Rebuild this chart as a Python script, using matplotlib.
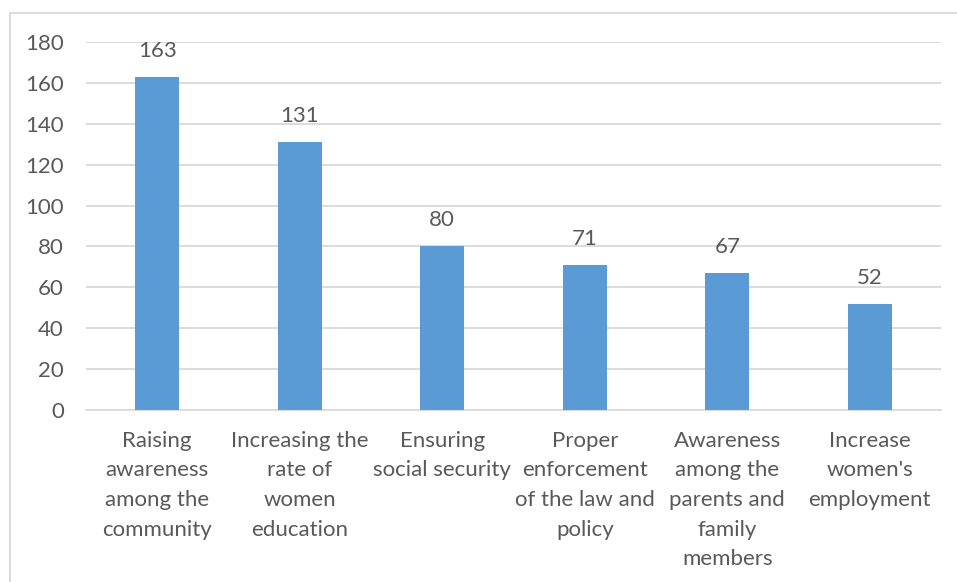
import matplotlib
matplotlib.use("Agg")
import matplotlib.pyplot as plt
from matplotlib.lines import Line2D

categories = [
    "Raising\nawareness\namong the\ncommunity",
    "Increasing the\nrate of\nwomen\neducation",
    "Ensuring\nsocial security",
    "Proper\nenforcement\nof the law and\npolicy",
    "Awareness\namong the\nparents and\nfamily\nmembers",
    "Increase\nwomen's\nemployment",
]
values = [163, 131, 80, 71, 67, 52]
yticks = [0, 20, 40, 60, 80, 100, 120, 140, 160, 180]

plt.rcParams['font.family'] = ['Lato', 'DejaVu Sans']
TEXT = '#595959'
GRID = '#D9D9D9'
BAR = '#5B9BD5'
FS = 16

W, H = 957, 582
fig = plt.figure(figsize=(W / 100, H / 100), dpi=100)
ax = fig.add_axes([86 / W, (H - 410) / H, (941 - 86) / W, (410 - 42) / H])

x = list(range(len(values)))
bars = ax.bar(x, values, width=0.31, color=BAR, zorder=3)
for xi, v in zip(x, values):
    ax.annotate(str(v), (xi, v), xytext=(0, 16), textcoords='offset pixels',
                ha='center', va='bottom', fontsize=FS, color=TEXT)

ax.set_xlim(-0.5, len(values) - 0.5)
ax.set_ylim(0, 180)
ax.set_yticks(yticks)
ax.set_yticklabels([str(t) for t in yticks])
ax.set_xticks(x)
ax.set_xticklabels(categories, linespacing=1.6)
ax.tick_params(axis='y', length=0, pad=16, labelsize=FS, labelcolor=TEXT)
ax.tick_params(axis='x', length=0, pad=15, labelsize=FS, labelcolor=TEXT)
ax.grid(axis='y', color=GRID, linewidth=1.3, zorder=0)
for s in ['top', 'right', 'left']:
    ax.spines[s].set_visible(False)
ax.spines['bottom'].set_color(GRID)
ax.spines['bottom'].set_linewidth(1.3)

# outer chart frame
fig.add_artist(Line2D([10 / W, 1.0], [(H - 13) / H, (H - 13) / H], color=GRID, linewidth=1.3))
fig.add_artist(Line2D([10 / W, 10 / W], [0, (H - 13) / H], color=GRID, linewidth=1.3))

fig.savefig('out.png', dpi=100)
